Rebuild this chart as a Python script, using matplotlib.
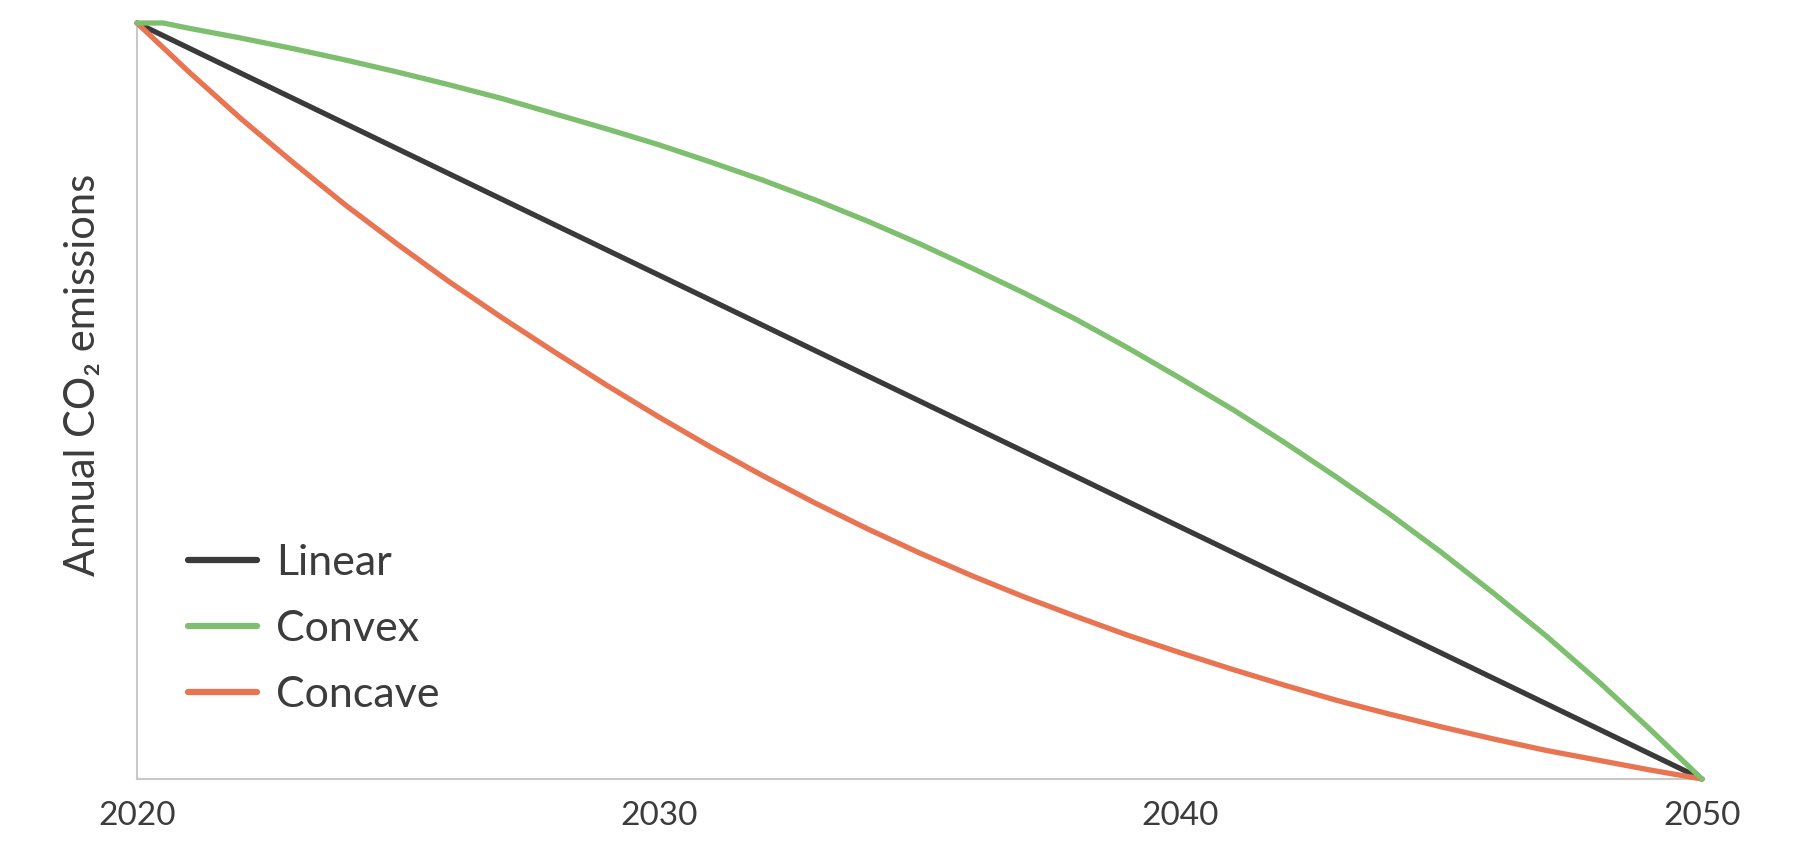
import matplotlib
matplotlib.use("Agg")
import matplotlib.pyplot as plt

years_linear = [2020, 2050]
linear = [100, 0]

years_convex = [2020, 2020.5, 2021, 2022, 2023, 2024, 2025, 2026, 2027, 2028, 2029,
                2030, 2031, 2032, 2033, 2034, 2035, 2036, 2037, 2038, 2039,
                2040, 2041, 2042, 2043, 2044, 2045, 2046, 2047, 2048, 2049, 2050]
convex = [100, 100, 99.3, 98.0, 96.6, 95.1, 93.5, 91.8, 90.0, 88.0, 86.0,
          83.9, 81.6, 79.2, 76.6, 73.8, 70.8, 67.6, 64.3, 60.8, 57.0,
          53.0, 48.9, 44.5, 39.9, 35.1, 30.0, 24.6, 19.0, 13.0, 6.6, 0]

years_concave = list(range(2020, 2051))
concave = [100, 93.5, 87.3, 81.5, 75.9, 70.7, 65.7, 61.0, 56.5, 52.1,
           47.9, 43.9, 40.1, 36.5, 33.1, 29.9, 26.9, 24.1, 21.5, 19.0,
           16.7, 14.5, 12.4, 10.4, 8.6, 6.9, 5.3, 3.8, 2.5, 1.2, 0]

xticks = [2020, 2030, 2040, 2050]
series_names = ["Linear", "Convex", "Concave"]

TEXT = "#3c3c3c"
C_LIN = "#3a3a3a"
C_CVX = "#7dbf6e"
C_CCV = "#e87452"
FONT = ["Lato", "DejaVu Sans"]
plt.rcParams["font.family"] = FONT

fig = plt.figure(figsize=(18.1, 8.5), dpi=100)
W, H = 1810, 850
ax = fig.add_axes([137 / W, 1 - 779 / H, (1702 - 137) / W, (779 - 23) / H])

lw = 3.8
l1, = ax.plot(years_linear, linear, color=C_LIN, lw=lw, solid_capstyle="round",
              clip_on=False, zorder=3, label=series_names[0])
l3, = ax.plot(years_concave, concave, color=C_CCV, lw=lw, solid_capstyle="round",
              solid_joinstyle="round", clip_on=False, zorder=4, label=series_names[2])
l2, = ax.plot(years_convex, convex, color=C_CVX, lw=lw, solid_capstyle="round",
              solid_joinstyle="round", clip_on=False, zorder=5, label=series_names[1])

ax.set_xlim(2020, 2050)
ax.set_ylim(0, 100)
for s in ["top", "right"]:
    ax.spines[s].set_visible(False)
for s in ["left", "bottom"]:
    ax.spines[s].set_color("#c8c8c8")
    ax.spines[s].set_linewidth(1.5)
    ax.spines[s].set_zorder(1)
ax.set_yticks([])
ax.set_xticks(xticks)
ax.set_xticklabels([str(x) for x in xticks])
ax.tick_params(axis="x", length=0, pad=16, labelsize=24, labelcolor=TEXT)

fig.text(83 / W, 1 - 375 / H, "Annual CO\u2082 emissions", rotation=90,
         ha="center", va="center", fontsize=30, color=TEXT)

leg = ax.legend(handles=[l1, l2, l3], loc="center left",
                bbox_to_anchor=(149 / W, 1 - 629 / H), bbox_transform=fig.transFigure,
                frameon=False, fontsize=31, handlelength=1.6, handletextpad=0.45,
                labelspacing=0.66, labelcolor=TEXT)
for h in leg.legend_handles:
    h.set_linewidth(4.5)

fig.savefig("out.png", dpi=100, facecolor="white")
